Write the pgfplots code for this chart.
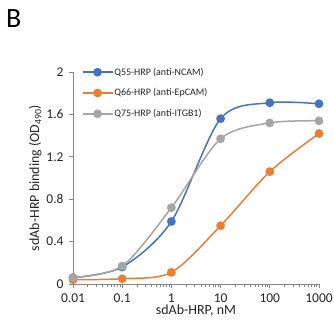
\documentclass[border=0pt]{standalone}
\usepackage{pgfplots}
\pgfplotsset{compat=1.18}
\usepackage{fontspec}
\setmainfont{Carlito}
\definecolor{cblue}{HTML}{4472C4}
\definecolor{corange}{HTML}{ED7D31}
\definecolor{cgray}{HTML}{A5A5A5}
\definecolor{caxis}{HTML}{868686}
\definecolor{ctext}{HTML}{262626}
\begin{document}
\begin{tikzpicture}
\path[use as bounding box] (-73bp,-45bp) rectangle (261bp,284bp);
\node[anchor=north west, inner sep=0pt, font=\fontsize{28}{30}\selectfont] at (-67bp,275bp) {B};
\begin{axis}[at={(0,0)}, anchor=south west, scale only axis,
  width=246bp, height=212bp,
  xmode=log, xmin=0.01, xmax=1000, ymin=0, ymax=2,
  clip=false,
  axis lines=left,
  axis line style={-, draw=caxis, line width=0.8pt},
  tick style={draw=caxis, line width=0.8pt},
  tick align=outside,
  major tick length=4bp,
  minor tick num=0,
  xtick={0.01,0.1,1,10,100,1000},
  xticklabels={0.01,0.1,1,10,100,1000},
  ytick={0,0.4,0.8,1.2,1.6,2},
  yticklabels={0,0.4,0.8,1.2,1.6,2},
  /pgf/number format/assume math mode=true,
  ticklabel style={font=\fontsize{13.5}{15}\selectfont, text=ctext},
  xticklabel style={yshift=-2bp},
  yticklabel style={xshift=-2bp},
  xlabel={sdAb-HRP, nM},
  ylabel={sdAb-HRP binding (OD\textsubscript{490})},
  label style={font=\fontsize{14}{16}\selectfont, text=ctext},
  xlabel style={yshift=4bp},
  ylabel style={yshift=-2bp},
  legend cell align=left,
  legend style={at={(rel axis cs:0.035,1.03)}, anchor=north west, draw=none, fill=none,
    font=\fontsize{10}{12}\selectfont, text=ctext, inner xsep=0pt, inner ysep=0pt,
    row sep=8bp, nodes={inner xsep=1bp}},
  legend image code/.code={\draw[mark repeat=2,mark phase=2] plot coordinates {(0bp,0bp) (15bp,0bp) (30bp,0bp)};},
  every axis plot/.append style={line width=1.5bp, smooth, tension=0.5, mark=*, mark size=3.6bp, mark options={solid}},
]
\addplot[cblue, mark options={fill=cblue, draw=cblue}] coordinates {
 (0.01,0.06) (0.1,0.16) (1,0.59) (10,1.56) (100,1.71) (1000,1.70)};
\addlegendentry{Q55-HRP (anti-NCAM)}
\addplot[corange, mark options={fill=corange, draw=corange}] coordinates {
 (0.01,0.04) (0.1,0.05) (1,0.11) (10,0.55) (100,1.06) (1000,1.42)};
\addlegendentry{Q66-HRP (anti-EpCAM)}
\addplot[cgray, mark options={fill=cgray, draw=cgray}] coordinates {
 (0.01,0.06) (0.1,0.17) (1,0.72) (10,1.37) (100,1.52) (1000,1.54)};
\addlegendentry{Q75-HRP (anti-ITGB1)}
\end{axis}
\end{tikzpicture}
\end{document}
